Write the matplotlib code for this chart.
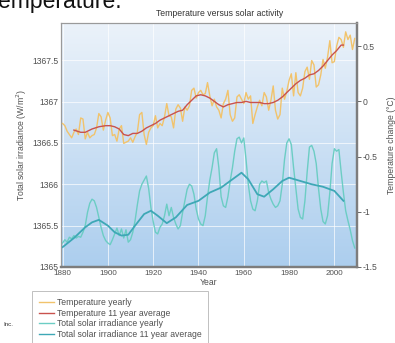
# temperature vs solar activity 
import numpy as np 
import matplotlib 
matplotlib.use('Agg') 
import matplotlib.pyplot as plt 
from matplotlib.colors import LinearSegmentedColormap 

plt.rcParams['font.family'] = ['Liberation Sans', 'DejaVu Sans'] 

# yearly values, 1880 - 2009 
years = list(range(1880, 2010)) 

temp_yearly = [ 
    -0.20, -0.22, -0.27, -0.30, -0.33, -0.28, -0.25, -0.30, -0.15, -0.16,   # 1880s 
    -0.34, -0.28, -0.33, -0.31, -0.30, -0.24, -0.11, -0.14, -0.26, -0.17,   # 1890s 
    -0.10, -0.15, -0.31, -0.30, -0.36, -0.25, -0.22, -0.38, -0.37, -0.36,   # 1900s 
    -0.33, -0.37, -0.32, -0.28, -0.12, -0.10, -0.30, -0.39, -0.28, -0.24,   # 1910s 
    -0.22, -0.13, -0.24, -0.20, -0.22, -0.14, -0.02, -0.13, -0.14, -0.24,   # 1920s 
    -0.07, -0.03, -0.06, -0.18, -0.05, -0.08, -0.04, 0.10, 0.12, 0.03,      # 1930s 
    0.08, 0.10, 0.06, 0.07, 0.17, 0.05, -0.04, 0.02, -0.05, -0.08,          # 1940s 
    -0.15, -0.02, 0.02, 0.10, -0.12, -0.18, -0.15, 0.04, 0.06, 0.02,        # 1950s 
    -0.02, 0.08, 0.02, 0.05, -0.20, -0.12, -0.05, 0.01, -0.04, 0.08,        # 1960s 
    0.04, -0.08, 0.01, 0.14, -0.08, -0.16, -0.12, 0.12, 0.02, 0.09,         # 1970s 
    0.19, 0.25, 0.05, 0.26, 0.08, 0.05, 0.12, 0.27, 0.31, 0.20,             # 1980s 
    0.37, 0.33, 0.13, 0.15, 0.24, 0.38, 0.30, 0.40, 0.55, 0.35,             # 1990s 
    0.36, 0.50, 0.58, 0.56, 0.49, 0.63, 0.56, 0.60, 0.47, 0.57,             # 2000s 
] 

tsi_yearly = [ 
    1365.29, 1365.33, 1365.30, 1365.36, 1365.34, 1365.38, 1365.35, 1365.37, 1365.36, 1365.42, 
    1365.50, 1365.66, 1365.77, 1365.82, 1365.80, 1365.72, 1365.60, 1365.48, 1365.38, 1365.32, 
    1365.29, 1365.27, 1365.33, 1365.40, 1365.47, 1365.38, 1365.46, 1365.35, 1365.45, 1365.30, 
    1365.33, 1365.42, 1365.56, 1365.75, 1365.92, 1366.00, 1366.05, 1366.10, 1365.95, 1365.72, 
    1365.55, 1365.42, 1365.40, 1365.48, 1365.52, 1365.62, 1365.76, 1365.62, 1365.72, 1365.60, 
    1365.52, 1365.46, 1365.50, 1365.66, 1365.80, 1365.94, 1366.00, 1365.98, 1365.88, 1365.70, 
    1365.58, 1365.52, 1365.50, 1365.62, 1365.85, 1366.05, 1366.20, 1366.38, 1366.43, 1366.20, 
    1365.85, 1365.74, 1365.72, 1365.85, 1366.04, 1366.20, 1366.40, 1366.55, 1366.57, 1366.50, 
    1366.56, 1366.30, 1366.00, 1365.80, 1365.70, 1365.68, 1365.80, 1366.00, 1366.04, 1366.02, 
    1366.04, 1365.90, 1365.82, 1365.76, 1365.72, 1365.74, 1365.80, 1366.00, 1366.30, 1366.50, 
    1366.55, 1366.48, 1366.20, 1365.95, 1365.70, 1365.60, 1365.58, 1365.80, 1366.15, 1366.45, 
    1366.47, 1366.40, 1366.25, 1365.95, 1365.70, 1365.55, 1365.52, 1365.62, 1365.90, 1366.25, 
    1366.43, 1366.40, 1366.42, 1366.15, 1365.90, 1365.68, 1365.56, 1365.45, 1365.32, 1365.23, 
] 

# 11 year averages 
temp_avg_years = [1885, 1888, 1890, 1893, 1896, 1899, 1901, 1903, 1905, 1907, 1909, 1911, 1913, 
                  1915, 1917, 1919, 1921, 1923, 1925, 1927, 1929, 1931, 1933, 1935, 1937, 1939, 
                  1941, 1943, 1945, 1947, 1949, 1951, 1953, 1955, 1957, 1959, 1961, 1963, 1965, 
                  1967, 1969, 1971, 1973, 1975, 1977, 1979, 1981, 1983, 1985, 1987, 1989, 1991, 
                  1993, 1995, 1997, 1999, 2001, 2003, 2004] 
temp_avg = [-0.26, -0.28, -0.28, -0.25, -0.23, -0.22, -0.22, -0.23, -0.25, -0.30, -0.31, -0.29, -0.29, 
            -0.27, -0.24, -0.22, -0.20, -0.17, -0.15, -0.13, -0.11, -0.09, -0.08, -0.03, 0.01, 0.05, 
            0.06, 0.05, 0.03, 0.00, -0.03, -0.05, -0.03, -0.02, -0.01, -0.01, 0.00, -0.01, -0.01, 
            -0.01, -0.02, -0.02, -0.01, 0.01, 0.04, 0.08, 0.12, 0.16, 0.19, 0.21, 0.24, 0.25, 
            0.28, 0.32, 0.37, 0.42, 0.46, 0.51, 0.51] 

tsi_avg_years = [1880, 1885, 1890, 1893, 1896, 1900, 1903, 1906, 1909, 1912, 1916, 1919, 1922, 1926, 
                 1930, 1935, 1940, 1945, 1950, 1955, 1959, 1962, 1966, 1969, 1973, 1977, 1980, 
                 1985, 1990, 1995, 2000, 2002, 2004] 
tsi_avg = [1365.24, 1365.35, 1365.48, 1365.54, 1365.57, 1365.50, 1365.42, 1365.38, 1365.39, 1365.50, 
           1365.64, 1365.68, 1365.62, 1365.53, 1365.60, 1365.75, 1365.80, 1365.90, 1365.96, 1366.06, 
           1366.14, 1366.06, 1365.88, 1365.85, 1365.94, 1366.04, 1366.08, 1366.04, 1366.00, 1365.97, 
           1365.92, 1365.86, 1365.80] 

x_ticks = [1880, 1900, 1920, 1940, 1960, 1980, 2000] 
tsi_ticks = [1365, 1365.5, 1366, 1366.5, 1367, 1367.5] 
tsi_labels = ['1365', '1365.5', '1366', '1366.5', '1367', '1367.5'] 
temp_ticks = [-1.5, -1, -0.5, 0, 0.5] 
temp_labels = ['-1.5', '-1', '-0.5', '0', '0.5'] 

legend_labels = ['Temperature yearly', 'Temperature 11 year average', 
                 'Total solar irradiance yearly', 'Total solar irradiance 11 year average'] 

c_temp = '#f1c36c' 
c_temp_avg = '#c9524e' 
c_tsi = '#6ccdc4' 
c_tsi_avg = '#3ea8b6' 
txt = '#505050' 


fig = plt.figure(figsize=(3.95, 3.43), dpi=100) 
ax = fig.add_axes([61/395, 1-267/343, 296/395, 244/343]) 

# blue gradient background 
bg = LinearSegmentedColormap.from_list('bg', ['#acceee', '#ebf2fa']) 
grad = np.linspace(0, 1, 256).reshape(-1, 1) 
ax.imshow(grad, cmap=bg, extent=[0, 1, 0, 1], transform=ax.transAxes, 
          aspect='auto', origin='lower', zorder=0) 

ax.plot(years, tsi_yearly, color=c_tsi, lw=1.0, zorder=3) 
ax.plot(tsi_avg_years, tsi_avg, color=c_tsi_avg, lw=1.3, zorder=4) 

ax.set_xlim(1879.3, 2010) 
ax.set_ylim(1365, 1367.95) 
ax.set_xticks(x_ticks) 
ax.set_yticks(tsi_ticks) 
ax.set_yticklabels(tsi_labels) 
ax.grid(True, color='white', lw=0.6, alpha=0.8, zorder=1) 
ax.set_axisbelow(True) 
ax.tick_params(axis='x', labelsize=5.8, colors=txt, length=0, pad=2) 
ax.tick_params(axis='y', labelsize=6.2, colors=txt, length=0, pad=2) 
ax.set_xlabel('Year', fontsize=6.2, color=txt, labelpad=1) 
ax.set_ylabel('Total solar irradiance (W/m$^2$)', fontsize=6.2, color=txt, labelpad=2) 

ax2 = ax.twinx() 
ax2.plot(years, temp_yearly, color=c_temp, lw=1.0, zorder=3) 
ax2.plot(temp_avg_years, temp_avg, color=c_temp_avg, lw=1.0, zorder=4) 
ax2.set_ylim(-1.5, 0.71) 
ax2.set_yticks(temp_ticks) 
ax2.set_yticklabels(temp_labels) 
ax2.tick_params(axis='y', labelsize=6.2, colors=txt, length=3, width=0.6, pad=1) 
ax2.set_ylabel('Temperature change (\u00b0C)', fontsize=6.2, color=txt, rotation=90, labelpad=7) 

for a in [ax, ax2]: 
    for s in ['top', 'left']: 
        a.spines[s].set_color('#9a9a9a') 
        a.spines[s].set_linewidth(0.8) 
    for s in ['right', 'bottom']: 
        a.spines[s].set_color('#7d7d7d') 
        a.spines[s].set_linewidth(1.6) 

fig.text(0.557, 1-14/343, 'Temperature versus solar activity', ha='center', va='center', 
         fontsize=6.2, color='#333333') 

# cut-off text from the page around the chart 
fig.text(-0.005, 1-8/343, 'emperature.', ha='left', va='baseline', fontsize=16.5, color='#111111') 
fig.text(3/395, 1-325/343, 'Inc.', ha='left', va='center', fontsize=4.5, color='#333333') 

handles = [ 
    plt.Line2D([], [], color=c_temp, lw=1.0), 
    plt.Line2D([], [], color=c_temp_avg, lw=1.0), 
    plt.Line2D([], [], color=c_tsi, lw=1.0), 
    plt.Line2D([], [], color=c_tsi_avg, lw=1.0), 
] 
leg = fig.legend(handles, legend_labels, loc='upper left', bbox_to_anchor=(32/395, 1-291/343), 
                 fontsize=6.2, frameon=True, fancybox=False, handlelength=1.75, 
                 handletextpad=0.3, labelspacing=0.2, borderpad=0.8, borderaxespad=0) 
leg.get_frame().set_edgecolor('#b0b0b0') 
leg.get_frame().set_linewidth(0.7) 
for t in leg.get_texts(): 
    t.set_color(txt) 

fig.savefig('out.png', dpi=100)
